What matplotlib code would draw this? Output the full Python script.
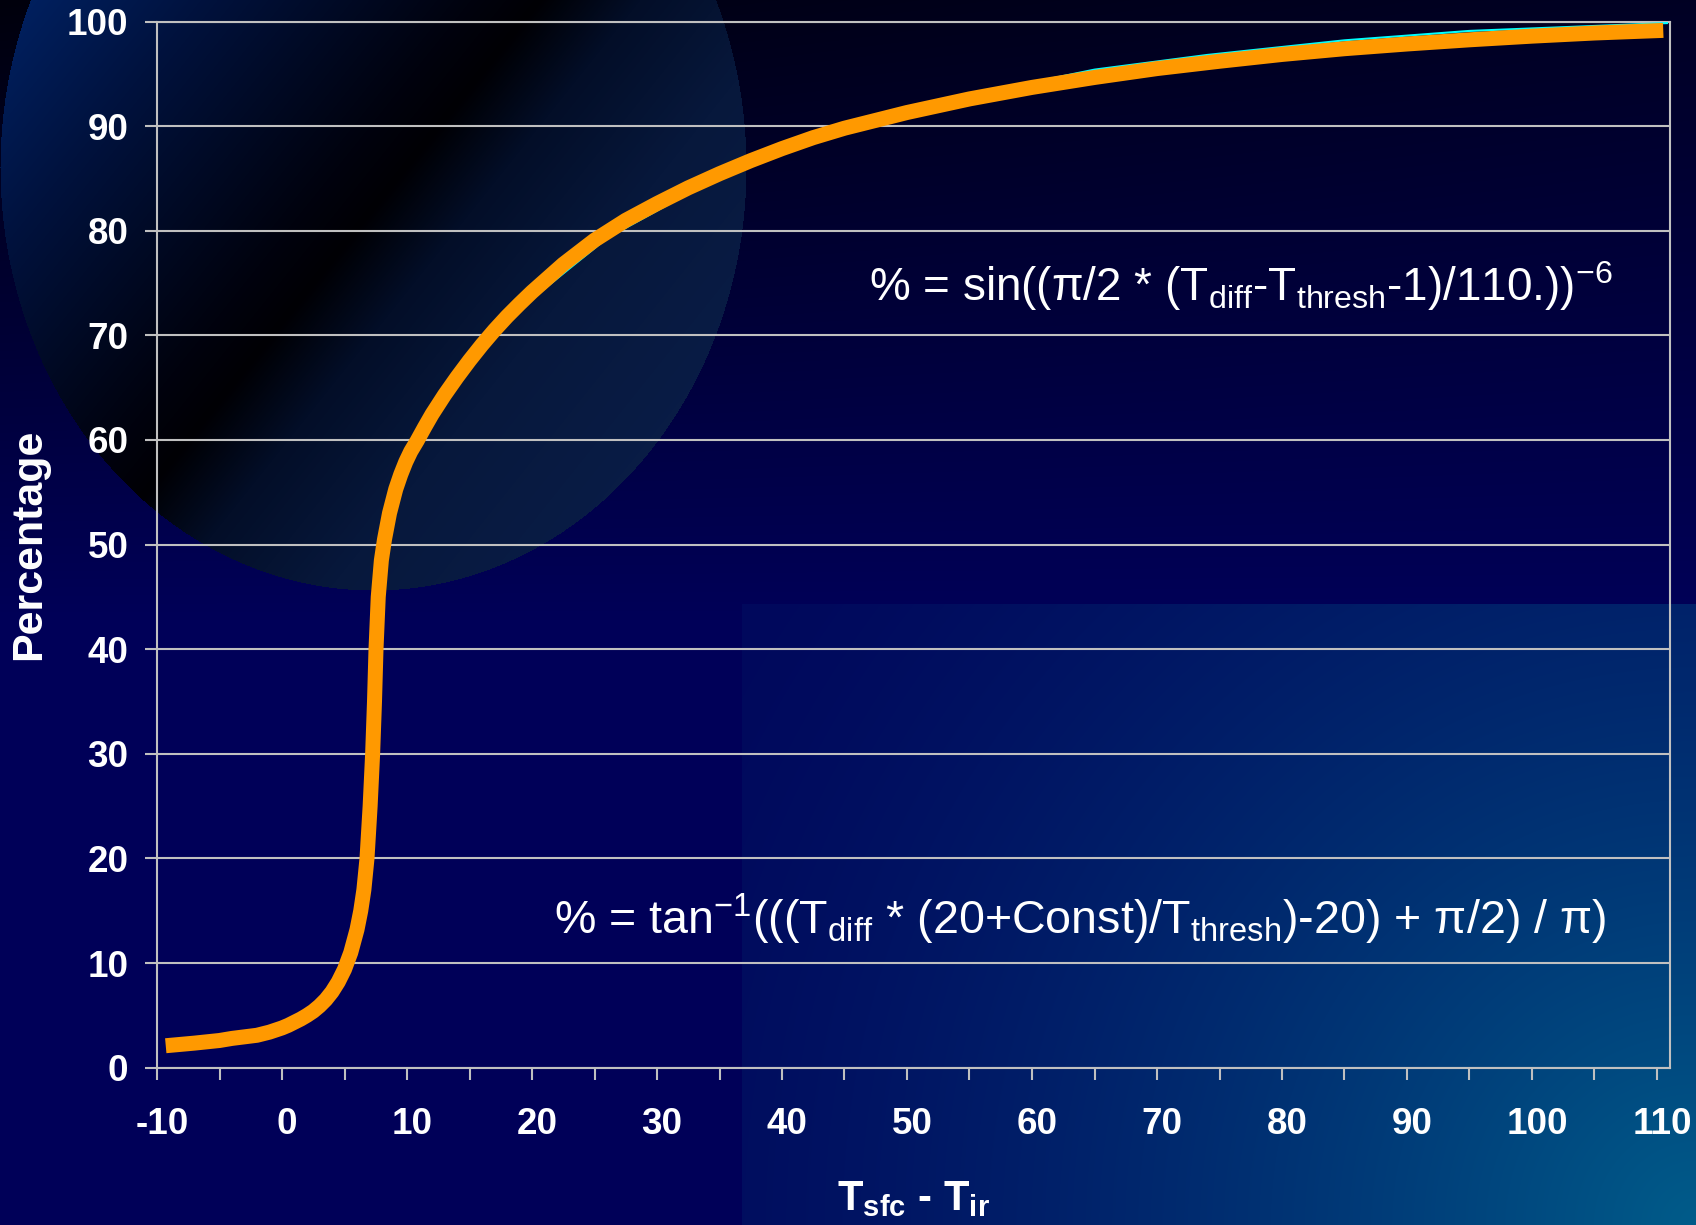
import numpy as np
import matplotlib
matplotlib.use('Agg')
import matplotlib.pyplot as plt
from matplotlib import font_manager
from matplotlib.transforms import ScaledTranslation

# 曲线数据（从图上读出来的）
t_diff = [-9.3, -7, -5, -4, -2, -1, 0, 0.5, 1, 1.5, 2, 2.5, 3, 3.5, 4, 4.5, 5, 5.5,
          6.0, 6.3, 6.55, 6.8, 7.05, 7.25, 7.4, 7.52, 7.7, 7.95, 8.2, 8.6, 9.1, 9.5,
          9.9, 10.3, 10.8, 11.4, 12, 13, 14, 15, 16, 17, 18, 19, 20, 22.5, 25, 27.5,
          30, 32.5, 35, 37.5, 40, 42.5, 45, 50, 55, 60, 65, 70, 75, 80, 85, 90, 95,
          100, 105, 110.5]
percent = [2.1, 2.35, 2.6, 2.8, 3.1, 3.4, 3.8, 4.05, 4.35, 4.65, 5.0, 5.4, 5.9, 6.5,
           7.25, 8.2, 9.4, 11.0, 13.2, 15, 17, 20, 25, 30, 35, 40, 45, 48.5, 50.5, 53,
           55.3, 56.7, 57.9, 58.9, 59.9, 61.2, 62.45, 64.3, 66.0, 67.6, 69.1, 70.5,
           71.8, 73.0, 74.15, 76.8, 79.1, 81.0, 82.6, 84.1, 85.45, 86.7, 87.85, 88.9,
           89.8, 91.3, 92.6, 93.7, 94.65, 95.5, 96.2, 96.85, 97.4, 97.85, 98.25, 98.6,
           98.9, 99.15]

# 底下那条细的青色线
cyan_x = [12, 16, 20, 26, 35, 46, 56, 65, 74, 85, 95, 110.8]
cyan_y = [61.6, 68.6, 73.5, 79.3, 85.2, 89.9, 93.2, 95.4, 96.8, 98.2, 99.1, 99.85]

x_ticks = [-10, 0, 10, 20, 30, 40, 50, 60, 70, 80, 90, 100, 110]
x_minor = [-5, 5, 15, 25, 35, 45, 55, 65, 75, 85, 95, 105]
y_ticks = [0, 10, 20, 30, 40, 50, 60, 70, 80, 90, 100]

W, H = 1696, 1225
silver = '#c0c0c0'


def pick(names):
    for n in names:
        try:
            font_manager.findfont(font_manager.FontProperties(family=n), fallback_to_default=False)
            return n
        except ValueError:
            pass
    return 'DejaVu Sans'


narrow = pick(['Liberation Sans Narrow', 'Arial Narrow', 'Liberation Sans'])
sans = pick(['Liberation Sans', 'Arial', 'DejaVu Sans'])

plt.rcParams['font.family'] = [sans, 'DejaVu Sans']
plt.rcParams['axes.unicode_minus'] = False
plt.rcParams['mathtext.fontset'] = 'custom'
plt.rcParams['mathtext.rm'] = narrow + ':weight=normal'
plt.rcParams['mathtext.it'] = narrow + ':italic:weight=normal'
plt.rcParams['mathtext.bf'] = sans + ':weight=bold'
plt.rcParams['mathtext.default'] = 'rm'

# 背景：深蓝渐变 + 左上椭圆 + 右下矩形
yy, xx = np.mgrid[0:H, 0:W].astype(float)
navy = np.array([0, 0, 88]) / 255
top_l = np.array([0, 0, 12]) / 255
top_r = np.array([0, 0, 36]) / 255
hx = (xx / W)[..., None]
top = top_l * (1 - hx) + top_r * hx
t = np.clip(yy / 620, 0, 1)[..., None]
bg = top * (1 - t) + navy * t

r = np.hypot(xx - W, yy - H)
f = (1 - np.clip(r / 1150, 0, 1)) ** 1.5
teal = np.array([0, 92, 138]) / 255
navy2 = np.array([0, 8, 92]) / 255
rect = navy2 + (teal - navy2) * f[..., None]
m = (xx >= 742) & (yy >= 604)
bg[m] = rect[m]

e = ((xx - 373) / 373) ** 2 + ((yy - 167) / 423) ** 2 <= 1
s = xx + 0.8 * yy
sp = [0, 200, 470, 540, 640, 800, 1100]
cols = np.array([[0, 34, 100], [0, 18, 62], [0, 2, 14], [0, 0, 4], [3, 14, 40],
                 [7, 24, 60], [10, 30, 74]]) / 255
disc = np.stack([np.interp(s, sp, cols[:, k]) for k in range(3)], axis=-1)
bg[e] = disc[e]

fig = plt.figure(figsize=(W / 100, H / 100), dpi=100)
bax = fig.add_axes([0, 0, 1, 1], zorder=-10)
bax.imshow(bg, aspect='auto', extent=(0, W, H, 0), interpolation='bilinear')
bax.set_xlim(0, W)
bax.set_ylim(H, 0)
bax.axis('off')

ax = fig.add_axes([157 / W, 1 - 1067.7 / H, (1670 - 157) / W, (1067.7 - 21.5) / H])
ax.set_facecolor('none')
ax.set_xlim(-10, 111.04)
ax.set_ylim(0, 100)
ax.set_xticks(x_ticks)
ax.set_xticks(x_minor, minor=True)
ax.set_yticks(y_ticks)
ax.tick_params(axis='both', which='both', direction='out', length=8.6, width=1.5,
               color=silver, labelcolor='white', labelsize=26.5)
ax.tick_params(axis='x', which='major', pad=20)
ax.tick_params(axis='y', which='major', pad=12)
for lab in ax.get_xticklabels() + ax.get_yticklabels():
    lab.set_fontweight('bold')
for lab in ax.get_xticklabels():
    lab.set_transform(lab.get_transform() + ScaledTranslation(5 / 100, 0, fig.dpi_scale_trans))
for sp_ in ax.spines.values():
    sp_.set_color(silver)
    sp_.set_linewidth(1.5)
ax.grid(axis='y', color=silver, lw=1.5)
ax.set_axisbelow(True)

ax.plot(cyan_x, cyan_y, color='#00ffff', lw=1.5, zorder=3, clip_on=False)
ax.plot(t_diff, percent, color='#ff9900', lw=10.8, solid_capstyle='butt',
        solid_joinstyle='round', zorder=4, clip_on=False)

fig.text(29 / W, 1 - 544.6 / H, 'Percentage', rotation=90, ha='center', va='center',
         color='white', fontsize=31, fontweight='bold')
fig.text(913 / W, 1 - 1210 / H, r'T$_{\mathbf{sfc}}$ - T$_{\mathbf{ir}}$', ha='center',
         va='baseline', color='white', fontsize=30, fontweight='bold')

eq1 = r'% = sin((π/2 * (T$_{\mathrm{diff}}$-T$_{\mathrm{thresh}}$-1)/110.))$^{-6}$'
eq2 = r'% = tan$^{-1}$(((T$_{\mathrm{diff}}$ * (20+Const)/T$_{\mathrm{thresh}}$)-20) + π/2) / π)'
fig.text(1613 / W, 1 - 301 / H, eq1, ha='right', va='baseline', color='white',
         fontsize=33, fontweight='normal', family=[narrow, 'DejaVu Sans'])
fig.text(1606 / W, 1 - 934 / H, eq2, ha='right', va='baseline', color='white',
         fontsize=33.6, fontweight='normal', family=[narrow, 'DejaVu Sans'])

fig.savefig('out.png', dpi=100)
